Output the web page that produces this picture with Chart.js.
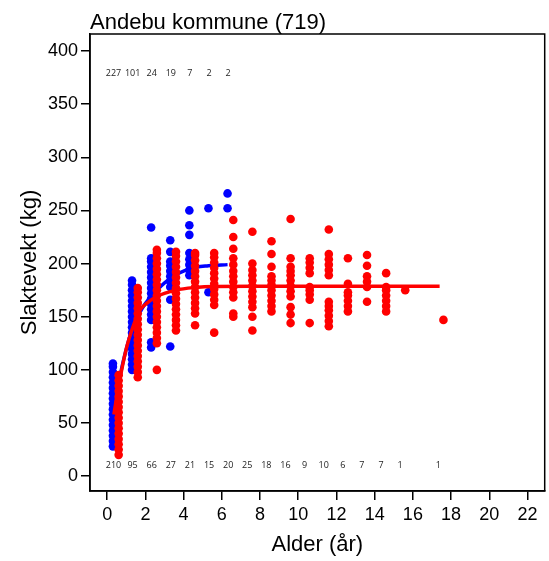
<!DOCTYPE html>
<html>
<head>
<meta charset="utf-8">
<script src="https://cdn.jsdelivr.net/npm/chart.js@4.4.1/dist/chart.umd.min.js"></script>
<style>
  html, body { margin: 0; padding: 0; background: #fff; }
  canvas { display: block; }
</style>
</head>
<body>
<canvas id="vektChart" width="549" height="561"></canvas>
<script>
// akse-ticks
const xTicks = [0, 2, 4, 6, 8, 10, 12, 14, 16, 18, 20, 22];
const yTicks = [0, 50, 100, 150, 200, 250, 300, 350, 400];

// blå punkter (alder, slaktevekt)
const blueAges = [0.3, 1.3, 2.3, 3.3, 4.3, 5.3, 6.3];
const blueWeights = [
  [28, 33, 38, 43, 48, 53, 58, 63, 68, 73, 78, 83, 88, 93, 98, 103, 106],
  [100, 105, 110, 115, 120, 125, 130, 135, 140, 145, 150, 155, 160, 165, 170, 175, 180, 184],
  [121, 126, 147, 152, 157, 162, 167, 172, 177, 182, 187, 192, 197, 202, 205, 234],
  [122, 166, 178, 183, 188, 193, 198, 202, 211, 222],
  [189, 194, 199, 204, 210, 227, 236, 250],
  [173, 252],
  [252, 266]
];

// røde punkter
const redAges = [0.6, 1.6, 2.6, 3.6, 4.6, 5.6, 6.6, 7.6, 8.6, 9.6, 10.6, 11.6, 12.6, 13.6, 14.6, 15.6, 17.6];
const redWeights = [
  [20, 25, 30, 35, 40, 45, 50, 55, 60, 65, 70, 75, 80, 85, 90, 95],
  [93, 98, 103, 108, 113, 118, 123, 128, 133, 138, 143, 148, 153, 158, 163, 168, 173, 177],
  [100, 125, 130, 135, 140, 145, 150, 155, 160, 165, 170, 175, 180, 185, 190, 195, 200, 205, 210, 213],
  [137, 142, 147, 152, 157, 162, 167, 172, 177, 182, 187, 192, 197, 202, 207, 211],
  [142, 153, 158, 163, 168, 173, 178, 183, 188, 193, 198, 203, 208, 210],
  [135, 161, 166, 171, 176, 181, 186, 191, 196, 201, 206, 210],
  [150, 153, 168, 173, 178, 183, 188, 193, 199, 205, 214, 225, 241],
  [137, 150, 159, 164, 169, 174, 179, 184, 189, 194, 200, 230],
  [155, 160, 165, 170, 175, 180, 184, 188, 197, 209, 221],
  [144, 152, 159, 169, 174, 179, 184, 189, 193, 197, 205, 242],
  [144, 166, 171, 175, 178, 191, 196, 201, 205],
  [141, 146, 151, 156, 160, 164, 189, 194, 199, 204, 209, 232],
  [155, 160, 165, 170, 173, 181, 205],
  [164, 178, 183, 188, 198, 208],
  [155, 160, 165, 170, 175, 178, 191],
  [175],
  [147]
];

// tilpassede kurver
const blueFitAges = [0.3, 0.8, 1.3, 1.8, 2.3, 3.3, 4.3, 5.3, 6.3];
const blueFit = [60, 105, 138, 157, 169, 186, 195, 198, 199];
const redFitAges = [0.35, 0.6, 1.0, 1.3, 1.7, 2.1, 2.6, 3.6, 4.6, 5.6, 7.6, 17.4];
const redFit = [58, 85, 120, 138, 156, 163, 169, 175, 177.5, 178.5, 178.7, 178.7];

// antall per aldersklasse
const topCountAges = [0.33, 1.33, 2.33, 3.33, 4.33, 5.33, 6.33];
const topCounts = [227, 101, 24, 19, 7, 2, 2];
const bottomCountAges = [0.33, 1.33, 2.33, 3.33, 4.33, 5.33, 6.33, 7.33, 8.33, 9.33, 10.33, 11.33, 12.33, 13.33, 14.33, 15.33, 17.33];
const bottomCounts = [210, 95, 66, 27, 21, 15, 20, 25, 18, 16, 9, 10, 6, 7, 7, 1, 1];
const topCountLevel = 379;
const bottomCountLevel = 10.5;

const BLUE = '#0000ff';
const RED = '#ff0000';

function toPoints(ages, weights) {
  const pts = [];
  ages.forEach((a, i) => weights[i].forEach(w => pts.push({ x: a, y: w })));
  return pts;
}
function toLine(ages, vals) {
  return ages.map((a, i) => ({ x: a, y: vals[i] }));
}

// ramme, tittel og antall-tekster
const extras = {
  id: 'extras',
  afterDraw(chart) {
    const { ctx, chartArea: a, scales } = chart;
    ctx.save();
    ctx.strokeStyle = '#000';
    ctx.lineWidth = 1.5;
    ctx.strokeRect(a.left, a.top, a.right - a.left, a.bottom - a.top);

    ctx.fillStyle = '#000';
    ctx.font = '22px "Liberation Sans", Arial, sans-serif';
    ctx.textAlign = 'left';
    ctx.textBaseline = 'alphabetic';
    ctx.fillText('Andebu kommune (719)', a.left, 29);

    ctx.font = '9px "Open Sans", sans-serif';
    ctx.fillStyle = '#222';
    ctx.textAlign = 'center';
    ctx.textBaseline = 'middle';
    topCounts.forEach((n, i) => {
      ctx.fillText(String(n), scales.x.getPixelForValue(topCountAges[i]), scales.y.getPixelForValue(topCountLevel));
    });
    bottomCounts.forEach((n, i) => {
      ctx.fillText(String(n), scales.x.getPixelForValue(bottomCountAges[i]), scales.y.getPixelForValue(bottomCountLevel));
    });
    ctx.restore();
  }
};

const ctx = document.getElementById('vektChart').getContext('2d');
new Chart(ctx, {
  type: 'scatter',
  data: {
    datasets: [
      {
        label: 'rød kurve',
        data: toLine(redFitAges, redFit),
        showLine: true,
        borderColor: RED,
        borderWidth: 3.5,
        pointRadius: 0,
        cubicInterpolationMode: 'monotone'
      },
      {
        label: 'rød',
        data: toPoints(redAges, redWeights),
        backgroundColor: RED,
        borderWidth: 0,
        pointRadius: 4.3
      },
      {
        label: 'blå kurve',
        data: toLine(blueFitAges, blueFit),
        showLine: true,
        borderColor: BLUE,
        borderWidth: 3.5,
        pointRadius: 0,
        cubicInterpolationMode: 'monotone'
      },
      {
        label: 'blå',
        data: toPoints(blueAges, blueWeights),
        backgroundColor: BLUE,
        borderWidth: 0,
        pointRadius: 4.3
      }
    ]
  },
  options: {
    responsive: false,
    animation: false,
    layout: { padding: { top: 34, right: 2, left: 0, bottom: 0 } },
    plugins: {
      legend: { display: false },
      tooltip: { enabled: false }
    },
    scales: {
      x: {
        type: 'linear',
        min: -0.9,
        max: 22.9,
        afterBuildTicks: s => { s.ticks = xTicks.map(v => ({ value: v })); },
        afterFit: s => { s.height = 70; },
        grid: { drawOnChartArea: false, drawTicks: true, tickLength: 9, color: '#000', lineWidth: 1.5 },
        border: { display: true, color: '#000', width: 1.5 },
        ticks: {
          color: '#000',
          padding: 4,
          maxRotation: 0,
          autoSkip: false,
          font: { family: '"Liberation Sans", Arial, sans-serif', size: 18 }
        },
        title: {
          display: true,
          text: 'Alder (år)',
          color: '#000',
          padding: { top: 0, bottom: 3 },
          font: { family: '"Liberation Sans", Arial, sans-serif', size: 22 }
        }
      },
      y: {
        type: 'linear',
        min: -14,
        max: 416,
        afterBuildTicks: s => { s.ticks = yTicks.map(v => ({ value: v })); },
        afterFit: s => { s.width = 90; },
        grid: { drawOnChartArea: false, drawTicks: true, tickLength: 9, color: '#000', lineWidth: 1.5 },
        border: { display: true, color: '#000', width: 1.5 },
        ticks: {
          color: '#000',
          padding: 3,
          autoSkip: false,
          font: { family: '"Liberation Sans", Arial, sans-serif', size: 18 }
        },
        title: {
          display: true,
          text: 'Slaktevekt (kg)',
          color: '#000',
          padding: { top: 17, bottom: 0 },
          font: { family: '"Liberation Sans", Arial, sans-serif', size: 22 }
        }
      }
    }
  },
  plugins: [extras]
});
</script>
</body>
</html>
